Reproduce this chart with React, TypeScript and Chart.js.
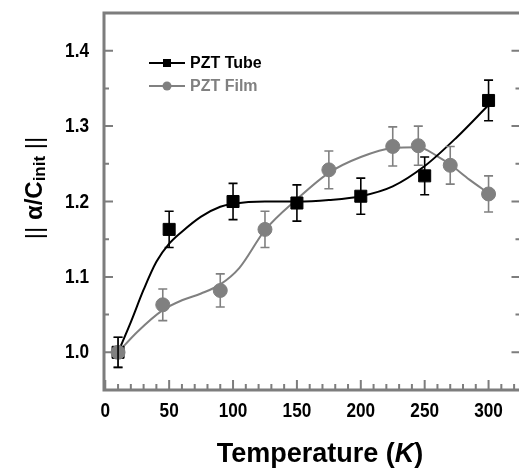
import React, { useEffect, useRef } from 'react';
import { Chart, registerables } from 'chart.js';

Chart.register(...registerables);

// ---- axis settings / tick labels ----
const xTickValues = [0, 50, 100, 150, 200, 250, 300];
const yTickValues = [1.0, 1.1, 1.2, 1.3, 1.4];
const xMin = -1;
const xMax = 325;
const yMin = 0.95;
const yMax = 1.45;

// ---- PZT Tube (squares) ----
const tubeTemps = [10, 50, 100, 150, 200, 250, 300];
const tubeValues = [1.0, 1.163, 1.2, 1.198, 1.207, 1.234, 1.334];
const tubeErrors = [0.02, 0.024, 0.024, 0.024, 0.024, 0.025, 0.027];

// ---- PZT Film (circles) ----
const filmTemps = [10, 45, 90, 125, 175, 225, 245, 270, 300];
const filmValues = [1.0, 1.063, 1.082, 1.163, 1.242, 1.273, 1.274, 1.248, 1.21];
const filmErrors = [0.02, 0.021, 0.022, 0.024, 0.025, 0.026, 0.026, 0.025, 0.024];

// ---- smoothed fit curves ----
const tubeFitTemps = [10, 20, 30, 40, 50, 60, 75, 90, 100, 125, 150, 175, 200, 225, 250, 275, 300];
const tubeFitValues = [1.0, 1.04, 1.083, 1.12, 1.144, 1.16, 1.18, 1.193, 1.197, 1.2, 1.2, 1.202, 1.207, 1.22, 1.247, 1.285, 1.328];
const filmFitTemps = [10, 25, 45, 60, 75, 90, 105, 125, 150, 175, 200, 225, 245, 260, 270, 285, 300];
const filmFitValues = [1.0, 1.027, 1.056, 1.069, 1.078, 1.09, 1.112, 1.162, 1.203, 1.238, 1.259, 1.271, 1.272, 1.26, 1.249, 1.229, 1.211];

const seriesNames = ['PZT Tube', 'PZT Film'];

const FONT = '"Liberation Sans", Arial, sans-serif';
const BLACK = '#000000';
const GRAY = '#808080';
const AXIS_GRAY = '#7d7d7d';

const toPoints = (xs: number[], ys: number[]) => xs.map((x, i) => ({ x, y: ys[i] }));

const errorBarPlugin = {
  id: 'errorBars',
  afterDatasetsDraw(chart: any) {
    const { ctx, scales } = chart;
    const x = scales.x;
    const y = scales.y;
    const draw = (temps: number[], vals: number[], errs: number[], color: string) => {
      ctx.save();
      ctx.strokeStyle = color;
      ctx.lineWidth = 1.6;
      temps.forEach((t, i) => {
        const px = x.getPixelForValue(t);
        const top = y.getPixelForValue(vals[i] + errs[i]);
        const bot = y.getPixelForValue(vals[i] - errs[i]);
        ctx.beginPath();
        ctx.moveTo(px, top);
        ctx.lineTo(px, bot);
        ctx.moveTo(px - 4.5, top);
        ctx.lineTo(px + 4.5, top);
        ctx.moveTo(px - 4.5, bot);
        ctx.lineTo(px + 4.5, bot);
        ctx.stroke();
      });
      ctx.restore();
    };
    draw(filmTemps, filmValues, filmErrors, GRAY);
    draw(tubeTemps, tubeValues, tubeErrors, BLACK);
  },
};

const decorPlugin = {
  id: 'decor',
  afterDraw(chart: any) {
    const { ctx, chartArea, scales } = chart;
    const x = scales.x;
    const y = scales.y;
    const { left, right, top, bottom } = chartArea;
    ctx.save();

    // frame
    ctx.strokeStyle = AXIS_GRAY;
    ctx.lineWidth = 3;
    ctx.lineCap = 'square';
    ctx.beginPath();
    ctx.moveTo(left, bottom);
    ctx.lineTo(left, top);
    ctx.lineTo(right, top);
    ctx.lineTo(right, bottom);
    ctx.lineTo(left, bottom);
    ctx.stroke();

    // inward ticks
    ctx.lineWidth = 2;
    ctx.lineCap = 'butt';
    ctx.beginPath();
    for (let v = 0; v <= 320; v += 10) {
      const px = x.getPixelForValue(v);
      const len = v % 50 === 0 ? 10 : 6;
      ctx.moveTo(px, bottom);
      ctx.lineTo(px, bottom - len);
    }
    for (let k = 0; k <= 9; k++) {
      const v = 1.0 + k * 0.05;
      const py = y.getPixelForValue(v);
      const len = k % 2 === 0 ? 9 : 5;
      ctx.moveTo(left, py);
      ctx.lineTo(left + len, py);
      ctx.moveTo(right, py);
      ctx.lineTo(right - len, py);
    }
    ctx.stroke();

    // tick labels (condensed bold), from the scales' own ticks
    ctx.fillStyle = BLACK;
    ctx.font = `bold 20px ${FONT}`;
    ctx.textBaseline = 'middle';
    x.ticks.forEach((t: any) => {
      const px = x.getPixelForValue(t.value);
      ctx.save();
      ctx.translate(px, 411);
      ctx.scale(0.86, 1);
      ctx.textAlign = 'center';
      ctx.fillText(String(t.value), 0, 0);
      ctx.restore();
    });
    y.ticks.forEach((t: any) => {
      const py = y.getPixelForValue(t.value);
      ctx.save();
      ctx.translate(89, py + 0.5);
      ctx.scale(0.86, 1);
      ctx.textAlign = 'right';
      ctx.fillText(Number(t.value).toFixed(1), 0, 0);
      ctx.restore();
    });

    // legend
    const legendItems = [
      { name: seriesNames[0], color: BLACK, style: 'rect', cy: 63 },
      { name: seriesNames[1], color: GRAY, style: 'circle', cy: 86 },
    ];
    legendItems.forEach((it) => {
      ctx.strokeStyle = it.color;
      ctx.fillStyle = it.color;
      ctx.lineWidth = 2;
      ctx.beginPath();
      ctx.moveTo(149, it.cy);
      ctx.lineTo(185, it.cy);
      ctx.stroke();
      if (it.style === 'rect') {
        ctx.fillRect(167 - 4, it.cy - 4, 8, 8);
      } else {
        ctx.beginPath();
        ctx.arc(167, it.cy, 4.5, 0, Math.PI * 2);
        ctx.fill();
      }
      ctx.font = `bold 16px ${FONT}`;
      ctx.textBaseline = 'middle';
      ctx.textAlign = 'left';
      ctx.fillText(it.name, 190, it.cy + 1);
    });

    // x title: Temperature (K)
    ctx.fillStyle = BLACK;
    ctx.textBaseline = 'alphabetic';
    ctx.textAlign = 'left';
    const fB = `bold 27px ${FONT}`;
    const fI = `italic bold 27px ${FONT}`;
    const parts = [
      { t: 'Temperature (', f: fB },
      { t: 'K', f: fI },
      { t: ')', f: fB },
    ];
    let total = 0;
    parts.forEach((p) => {
      ctx.font = p.f;
      total += ctx.measureText(p.t).width;
    });
    let cx = 320 - total / 2;
    parts.forEach((p) => {
      ctx.font = p.f;
      ctx.fillText(p.t, cx, 462);
      cx += ctx.measureText(p.t).width;
    });

    // y title: || α/C_init ||
    ctx.save();
    ctx.translate(42, 188);
    ctx.rotate(-Math.PI / 2);
    const yparts = [
      { t: '|| ', f: `24px ${FONT}`, dy: 0 },
      { t: 'α/C', f: `bold 24px ${FONT}`, dy: 0 },
      { t: 'init', f: `bold 17px ${FONT}`, dy: 3 },
      { t: ' ||', f: `24px ${FONT}`, dy: 0 },
    ];
    let ytotal = 0;
    yparts.forEach((p) => {
      ctx.font = p.f;
      ytotal += ctx.measureText(p.t).width;
    });
    let yx = -ytotal / 2;
    yparts.forEach((p) => {
      ctx.font = p.f;
      ctx.fillText(p.t, yx, p.dy);
      yx += ctx.measureText(p.t).width;
    });
    ctx.restore();

    ctx.restore();
  },
};

export default function App() {
  const canvasRef = useRef<HTMLCanvasElement | null>(null);

  useEffect(() => {
    const canvas = canvasRef.current;
    if (!canvas) return;
    const chart = new Chart(canvas, {
      type: 'scatter',
      data: {
        datasets: [
          {
            label: seriesNames[1],
            data: toPoints(filmTemps, filmValues),
            showLine: false,
            pointStyle: 'circle',
            pointRadius: 7,
            pointHoverRadius: 7,
            backgroundColor: GRAY,
            borderColor: GRAY,
            borderWidth: 1,
            order: 1,
          },
          {
            label: seriesNames[0],
            data: toPoints(tubeTemps, tubeValues),
            showLine: false,
            pointStyle: 'rect',
            pointRadius: 8.5,
            pointHoverRadius: 8.5,
            backgroundColor: BLACK,
            borderColor: BLACK,
            borderWidth: 1,
            order: 2,
          },
          {
            label: seriesNames[0] + ' fit',
            data: toPoints(tubeFitTemps, tubeFitValues),
            showLine: true,
            pointRadius: 0,
            borderColor: BLACK,
            borderWidth: 2,
            cubicInterpolationMode: 'monotone',
            order: 3,
          },
          {
            label: seriesNames[1] + ' fit',
            data: toPoints(filmFitTemps, filmFitValues),
            showLine: true,
            pointRadius: 0,
            borderColor: GRAY,
            borderWidth: 2,
            cubicInterpolationMode: 'monotone',
            order: 4,
          },
        ],
      },
      options: {
        responsive: false,
        maintainAspectRatio: false,
        animation: false,
        devicePixelRatio: 1,
        layout: { padding: { left: 0, right: 9, top: 13, bottom: 0 } },
        plugins: {
          legend: { display: false },
          tooltip: { enabled: false },
          title: { display: false },
        },
        scales: {
          x: {
            type: 'linear',
            min: xMin,
            max: xMax,
            grid: { display: false, drawTicks: false },
            border: { display: false },
            ticks: { display: false },
            afterBuildTicks: (scale: any) => {
              scale.ticks = xTickValues.map((v) => ({ value: v }));
            },
            afterFit: (scale: any) => {
              scale.height = 82;
              scale.paddingLeft = 0;
              scale.paddingRight = 0;
              scale.paddingTop = 0;
              scale.paddingBottom = 0;
            },
          },
          y: {
            type: 'linear',
            min: yMin,
            max: yMax,
            grid: { display: false, drawTicks: false },
            border: { display: false },
            ticks: { display: false },
            afterBuildTicks: (scale: any) => {
              scale.ticks = yTickValues.map((v) => ({ value: v }));
            },
            afterFit: (scale: any) => {
              scale.width = 104;
              scale.paddingLeft = 0;
              scale.paddingRight = 0;
              scale.paddingTop = 0;
              scale.paddingBottom = 0;
            },
          },
        },
      },
      plugins: [errorBarPlugin, decorPlugin],
    } as any);
    return () => chart.destroy();
  }, []);

  return (
    <div style={{ position: 'fixed', left: 0, top: 0, width: 519, height: 472, overflow: 'hidden', background: '#fff' }}>
      <canvas ref={canvasRef} width={530} height={472} style={{ width: 530, height: 472, display: 'block' }} />
    </div>
  );
}
